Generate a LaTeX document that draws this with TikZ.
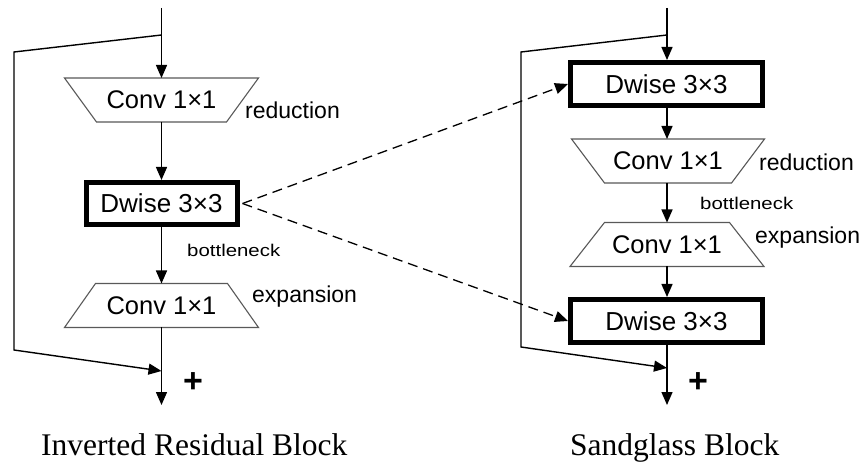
\documentclass[tikz,border=0pt]{standalone}
\usepackage{fontspec}
\setmainfont{Liberation Serif}
\newfontfamily\arialfont{Liberation Sans}
\usetikzlibrary{arrows.meta}
\begin{document}
\begin{tikzpicture}[x=1pt,y=-1pt,
  tip/.style={-{Triangle[length=13pt,width=11pt]}},
  arr/.style={line width=1.4pt, tip},
  dasharr/.style={line width=1.3pt, dash pattern=on 10pt off 6pt, tip},
  dwbox/.style={draw, line width=5pt, minimum width=192pt, minimum height=43pt, inner sep=0pt,
    font=\arialfont\fontsize{26}{26}\selectfont},
  trapref/.style={minimum width=194pt, minimum height=44pt, inner sep=0pt, outer sep=0pt,
    font=\arialfont\fontsize{25.5}{26}\selectfont},
  trapline/.style={draw=black!65, line width=1.1pt},
  lab/.style={font=\arialfont\fontsize{23}{23}\selectfont, anchor=base west, inner sep=0pt},
  smalllab/.style={font=\arialfont\fontsize{17}{17}\selectfont, anchor=base west, inner sep=0pt, xscale=1.2},
  plus/.style={font=\arialfont\bfseries\fontsize{34}{34}\selectfont, inner sep=0pt},
  captext/.style={font=\fontsize{31.5}{32}\selectfont, anchor=base west, inner sep=0pt}
]
\fill[white] (0,0) rectangle (865,462);
\useasboundingbox (0,0) rectangle (865,462);

% ---------------- Left: Inverted Residual Block ----------------
\coordinate (t1) at (161.5,8);
\coordinate (j1) at (161.5,35);
\coordinate (s1a) at (14,52);
\coordinate (s1b) at (14,350);
\coordinate (m1) at (161.5,371);
\coordinate (o1) at (161.5,405);

\node[trapref] (r1) at (161.5,100) {Conv 1×1};
\draw[trapline] ([xshift=-97pt]r1.north) -- ([xshift=97pt]r1.north) -- ([xshift=65pt]r1.south) -- ([xshift=-65pt]r1.south) -- cycle;

\node[dwbox, minimum width=151pt, minimum height=42pt] (d1) at (161.5,203.5) {Dwise 3×3};

\node[trapref] (e1) at (161.5,305.5) {Conv 1×1};
\draw[trapline] ([xshift=-66pt]e1.north) -- ([xshift=66pt]e1.north) -- ([xshift=97pt]e1.south) -- ([xshift=-97pt]e1.south) -- cycle;

\draw[arr] (t1) -- (r1.north);
\draw[arr] (r1.south) -- (d1.north);
\draw[arr] (d1.south) -- (e1.north);
\draw[arr] (e1.south) -- (o1);
\draw[arr] (j1) -- (s1a) -- (s1b) -- (m1);

\node[lab] (lr1) at (245,119) {reduction};
\node[smalllab] (lb1) at (187,257) {bottleneck};
\node[lab] (le1) at (252,303) {expansion};
\node[plus] (p1) at (193,383) {+};

% ---------------- Right: Sandglass Block ----------------
\coordinate (t2) at (667,8);
\coordinate (j2) at (667,35);
\coordinate (s2a) at (521,52);
\coordinate (s2b) at (521,347);
\coordinate (m2) at (667,368);
\coordinate (o2) at (667,405);

\node[dwbox] (d2) at (666.5,84) {Dwise 3×3};

\node[trapref] (r2) at (668,161) {Conv 1×1};
\draw[trapline] ([xshift=-96.5pt]r2.north) -- ([xshift=96.5pt]r2.north) -- ([xshift=63.5pt]r2.south) -- ([xshift=-63.5pt]r2.south) -- cycle;

\node[trapref] (e2) at (667,244.5) {Conv 1×1};
\draw[trapline] ([xshift=-62.5pt]e2.north) -- ([xshift=62.5pt]e2.north) -- ([xshift=97pt]e2.south) -- ([xshift=-97pt]e2.south) -- cycle;

\node[dwbox] (d3) at (666.5,321) {Dwise 3×3};

\draw[arr] (t2) -- (d2.north -| t2);
\draw[arr] (d2.south -| t2) -- (r2.north -| t2);
\draw[arr] (r2.south -| t2) -- (e2.north -| t2);
\draw[arr] (e2.south -| t2) -- (d3.north -| t2);
\draw[arr] (d3.south -| t2) -- (o2);
\draw[arr] (j2) -- (s2a) -- (s2b) -- (m2);

\node[lab] (lr2) at (759,171) {reduction};
\node[smalllab] (lb2) at (700,210) {bottleneck};
\node[lab] (le2) at (755,244) {expansion};
\node[plus] (p2) at (698,383) {+};

% ---------------- Dashed links ----------------
\coordinate (dsrc) at ([xshift=3pt]d1.east);
\draw[dasharr] (dsrc) -- (d2.west);
\draw[dasharr] (dsrc) -- (d3.west);

% ---------------- Captions ----------------
\node[captext] (c1) at (41,455) {Inverted Residual Block};
\node[captext] (c2) at (570,455) {Sandglass Block};
\end{tikzpicture}
\end{document}
